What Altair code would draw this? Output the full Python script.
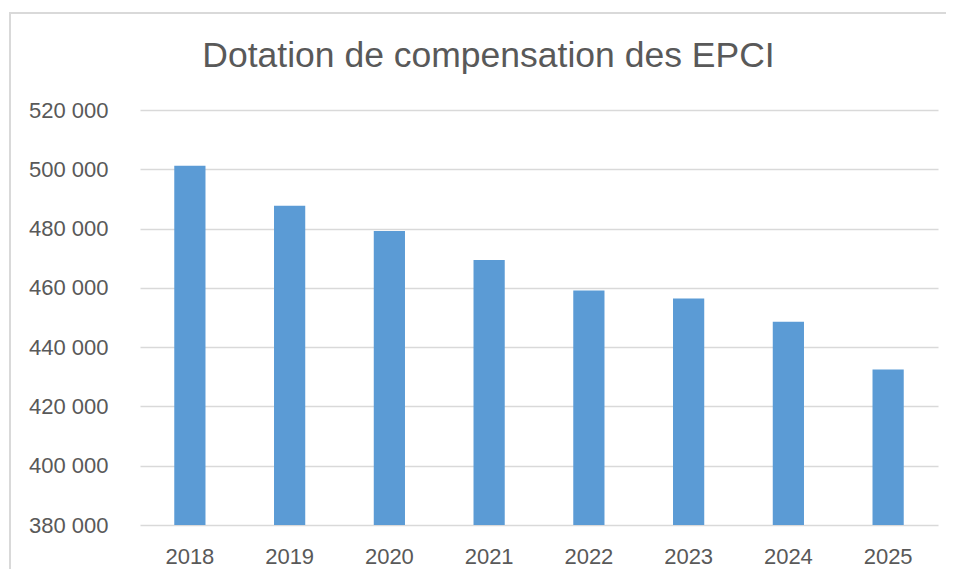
import altair as alt
import pandas as pd

TITLE = "Dotation de compensation des EPCI"
years = ["2018", "2019", "2020", "2021", "2022", "2023", "2024", "2025"]
values = [501200, 487700, 479200, 469400, 459100, 456400, 448600, 432500]
y_ticks = [380000, 400000, 420000, 440000, 460000, 480000, 500000, 520000]

df = pd.DataFrame({"year": years, "value": values})

FONT = "Liberation Sans"
GRAY = "#595959"
GRID = "#d9d9d9"

W, H = 798, 415

bars = alt.Chart(df).mark_bar(color="#5B9BD5", clip=True).encode(
    x=alt.X("year:N", sort=years,
            scale=alt.Scale(paddingInner=0.687, paddingOuter=0.3435),
            axis=alt.Axis(title=None, domain=False, ticks=False, labelAngle=0,
                          labelPadding=21, labelFontSize=22, labelColor=GRAY,
                          labelFont=FONT)),
    y=alt.Y("value:Q",
            scale=alt.Scale(domain=[380000, 520000], nice=False, zero=False),
            axis=alt.Axis(title=None, domain=False, ticks=False, values=y_ticks,
                          grid=True, gridColor=GRID, gridWidth=1.5,
                          labelPadding=32, labelFontSize=22, labelColor=GRAY,
                          labelFont=FONT,
                          labelExpr="replace(format(datum.value, ','), ',', ' ')")),
)

title = alt.Chart(pd.DataFrame({"t": [TITLE]})).mark_text(
    font=FONT, fontSize=35.5, color=GRAY, align="center", baseline="alphabetic"
).encode(text="t:N", x=alt.value(488.5 - 140), y=alt.value(67 - 110))

frame_top = alt.Chart(pd.DataFrame({"a": [0]})).mark_rule(
    color=GRID, strokeWidth=2
).encode(x=alt.value(9 - 140), x2=alt.value(960 - 140), y=alt.value(13 - 110))

frame_left = alt.Chart(pd.DataFrame({"a": [0]})).mark_rule(
    color=GRID, strokeWidth=2
).encode(x=alt.value(10 - 140), y=alt.value(12 - 110), y2=alt.value(580 - 110))

chart = alt.layer(frame_top, frame_left, bars, title).properties(
    width=W, height=H,
    autosize=alt.AutoSizeParams(type="none"),
    padding={"left": 132, "top": 102, "right": 8, "bottom": 44},
).configure(background="white").configure_view(stroke=None, strokeWidth=0)

chart.save("out.html", embed_options={"renderer": "svg", "actions": False})
